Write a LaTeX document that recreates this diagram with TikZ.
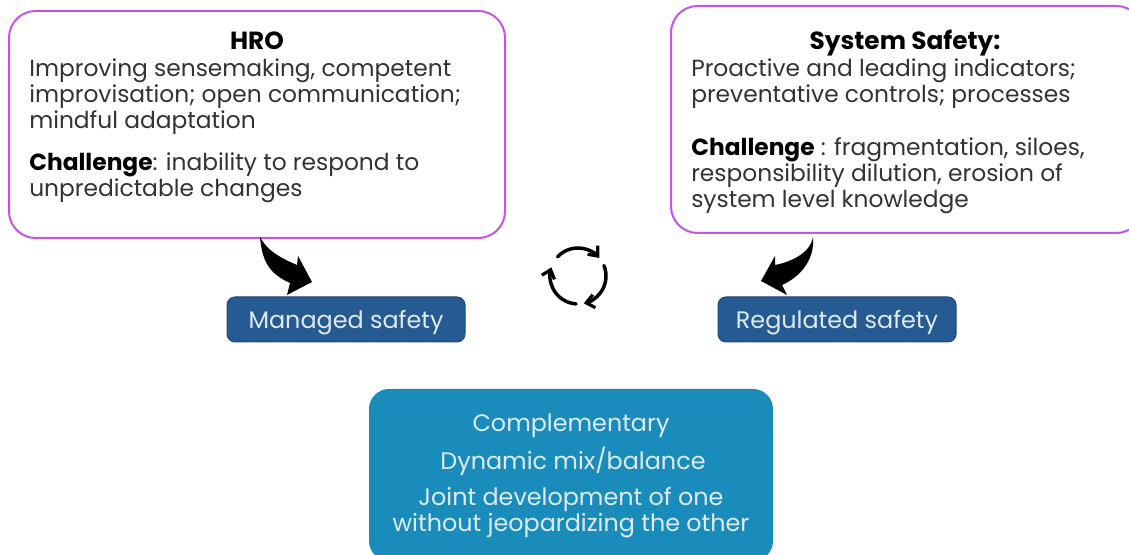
\documentclass[tikz,border=0pt]{standalone}
\usepackage{fontspec}
\setmainfont{Poppins}
\usetikzlibrary{arrows.meta}
\definecolor{lilac}{HTML}{C653E8}
\definecolor{inkc}{HTML}{333333}
\definecolor{navyb}{HTML}{265A92}
\definecolor{navye}{HTML}{1F4A78}
\definecolor{tealb}{HTML}{1A8CBC}
\definecolor{paletxt}{HTML}{DCEBF5}
\tikzset{
  x=0.75pt,y=-0.75pt,
  pinkbox/.style={draw=lilac,line width=1.5pt,fill=white,rounded corners=20pt},
  navybox/.style={draw=navye,line width=0.75pt,fill=navyb,rounded corners=6pt},
  tealbox/.style={fill=tealb,rounded corners=15pt},
  blocktxt/.style={inner sep=0pt,anchor=north west,align=left,text=inkc,font=\fontsize{17.5pt}{19.6pt}\selectfont},
  headtxt/.style={inner sep=0pt,anchor=base,text=black,font=\fontsize{18.6pt}{19.6pt}\selectfont\bfseries},
  whitetxt/.style={inner sep=0pt,align=center,text=paletxt,font=\fontsize{17.9pt}{19.6pt}\selectfont},
  cyc/.style={line width=2.6pt,line cap=round,-{Straight Barb[length=6pt,width=10pt,line width=2.4pt]}},
}
\newcommand{\boldlead}[1]{\textcolor{black}{\textbf{#1}}}
\begin{document}
\begin{tikzpicture}
\useasboundingbox (0,0) rectangle (1129,555);
\begin{scope}
\clip (0,0) rectangle (1129,555);
\path[pinkbox] (9,11) rectangle (505,238);
\path[pinkbox] (671,6) rectangle (1143,233);
\path[tealbox] (369,389) rectangle (773,561);
\end{scope}
\node[headtxt] (hrohead) at (257,50) {HRO};
\node[blocktxt] (hrobody) at (29,58) {Improving sensemaking, competent\\improvisation; open communication;\\mindful adaptation};
\node[blocktxt] (hrochal) at (29,152) {\boldlead{Challenge}: inability to respond to\\unpredictable changes};
\node[headtxt] (syshead) at (905,50) {System Safety:};
\node[blocktxt] (sysbody) at (691,58) {Proactive and leading indicators;\\preventative controls; processes};
\node[blocktxt] (syschal) at (691,137) {\boldlead{Challenge} : fragmentation, siloes,\\responsibility dilution, erosion of\\system level knowledge};
\path[navybox] (227,297) rectangle (465,342);
\path[navybox] (718,297) rectangle (956,342);
\node[whitetxt] (managed) at (346,323) {Managed safety};
\node[whitetxt] (regulated) at (837,323) {Regulated safety};
\node[whitetxt] (comp) at (571,426) {Complementary};
\node[whitetxt] (dyn) at (573,461) {Dynamic mix/balance};
\node[whitetxt] (joint) at (571,513) {Joint development of one\\without jeopardizing the other};
% block arrows
\coordinate (lt) at (260,237);
\coordinate (rt) at (813,237);
\fill[black] (lt) .. controls (268,252) and (283,259) .. (297,265) -- (298,256) -- (312,282) -- (287,295) -- (290,283)
  .. controls (270,274) and (262,262) .. (lt) -- cycle;
\fill[black] (rt) .. controls (810,254) and (790,262) .. (775,265) -- (775,256) -- (761,281) -- (787,295) -- (782,285)
  .. controls (800,277) and (815,260) .. (rt) -- cycle;
% cycle icon
\coordinate (cc) at (578,276);
\draw[cyc] ([shift={(137:28*0.75pt)}]cc) arc[start angle=137,end angle=40,radius=28*0.75pt];
\draw[cyc] ([shift={(22:28*0.75pt)}]cc) arc[start angle=22,end angle=-78,radius=28*0.75pt];
\draw[cyc] ([shift={(-94:28*0.75pt)}]cc) arc[start angle=-94,end angle=-198,radius=28*0.75pt];
\end{tikzpicture}
\end{document}
